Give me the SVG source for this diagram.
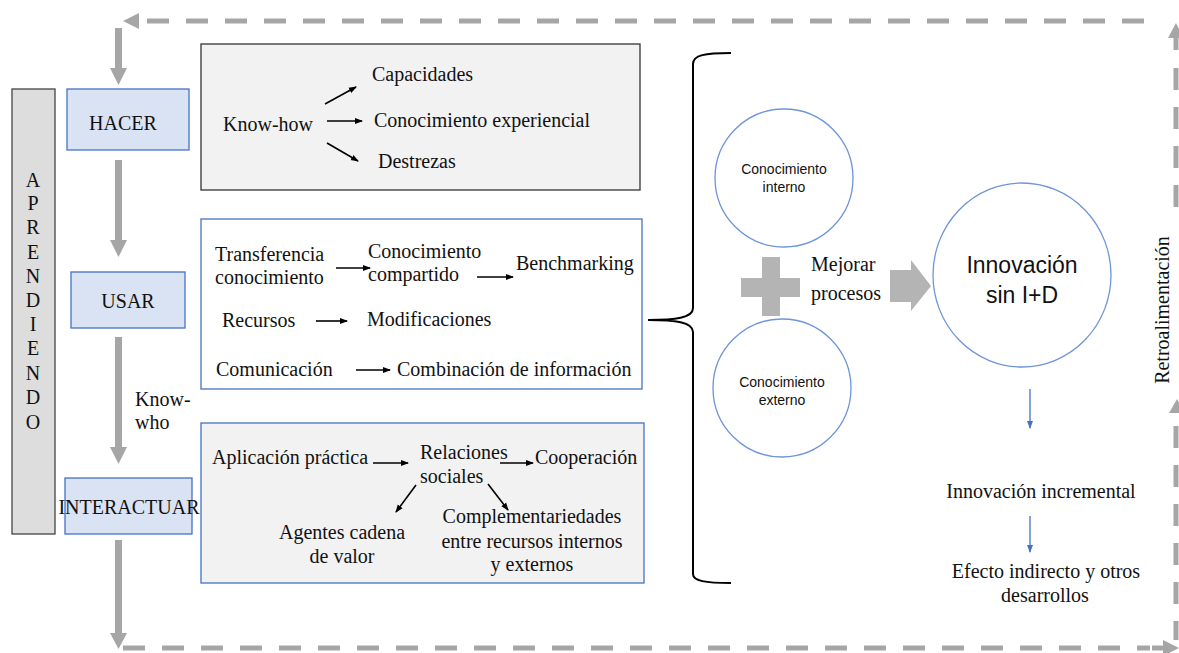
<svg xmlns="http://www.w3.org/2000/svg" width="1179" height="653" viewBox="0 0 1179 653">
<style>
.t{font-family:"Liberation Serif","Times New Roman",serif;font-size:20px;fill:#111}
.s{font-family:"Liberation Sans",Arial,sans-serif;fill:#111}
.lbl{fill:#dae3f3;stroke:#4472c4;stroke-width:1.3}
.dash{stroke:#a6a6a6;stroke-width:5;stroke-dasharray:22 17;fill:none}
.gray{fill:#a6a6a6}
.blk{stroke:#000;stroke-width:1.6;fill:none;marker-end:url(#ah)}
.blu{stroke:#4472c4;stroke-width:1.3;fill:none;marker-end:url(#bh)}
.circ{fill:#fff;stroke:#6d95d8;stroke-width:1.3}
</style>
<defs>
<marker id="ah" markerWidth="8" markerHeight="8" refX="7" refY="4" orient="auto" markerUnits="userSpaceOnUse"><path d="M0,1 L8,4 L0,7 Z" fill="#000"/></marker>
<marker id="bh" markerWidth="8" markerHeight="8" refX="7" refY="4" orient="auto" markerUnits="userSpaceOnUse"><path d="M0,1 L8,4 L0,7 Z" fill="#4472c4"/></marker>
</defs>
<rect width="1179" height="653" fill="#fff"/>

<g id="aprendiendo">
<rect x="12" y="89" width="43" height="445" fill="#dddddd" stroke="#444" stroke-width="1.3"/>
<g class="t" text-anchor="middle" font-size="19">
<text x="33" y="187">A</text><text x="33" y="210">P</text><text x="33" y="234">R</text><text x="33" y="259">E</text><text x="33" y="283">N</text><text x="33" y="307">D</text><text x="33" y="331">I</text><text x="33" y="355">E</text><text x="33" y="380">N</text><text x="33" y="404">D</text><text x="33" y="429">O</text>
</g>
</g>

<g id="hacer"><rect class="lbl" x="67" y="89" width="122" height="61"/><text class="t" x="123" y="130" text-anchor="middle">HACER</text></g>
<g id="usar"><rect class="lbl" x="71" y="272" width="114" height="56"/><text class="t" x="128" y="308" text-anchor="middle">USAR</text></g>
<g id="interactuar"><rect class="lbl" x="65" y="478" width="127" height="56"/><text class="t" x="129" y="514" text-anchor="middle">INTERACTUAR</text></g>
<g id="knowwho"><text class="t" x="135" y="406">Know-</text><text class="t" x="135" y="429">who</text></g>

<g id="box-knowhow">
<rect x="201" y="44" width="439" height="146" fill="#f2f2f2" stroke="#333" stroke-width="1.3"/>
<text class="t" x="223" y="131">Know-how</text>
<text class="t" x="372" y="81">Capacidades</text>
<text class="t" x="374" y="127">Conocimiento experiencial</text>
<text class="t" x="378" y="168">Destrezas</text>
</g>

<g id="box-usar">
<rect x="201" y="219" width="441" height="170" fill="#fff" stroke="#4472c4" stroke-width="1.3"/>
<text class="t" x="215" y="261">Transferencia</text>
<text class="t" x="215" y="284">conocimiento</text>
<text class="t" x="368" y="258">Conocimiento</text>
<text class="t" x="368" y="281">compartido</text>
<text class="t" x="516" y="270">Benchmarking</text>
<text class="t" x="222" y="327">Recursos</text>
<text class="t" x="367" y="326">Modificaciones</text>
<text class="t" x="216" y="376">Comunicación</text>
<text class="t" x="397" y="376">Combinación de información</text>
</g>

<g id="box-interactuar">
<rect x="201" y="423" width="443" height="160" fill="#f2f2f2" stroke="#4472c4" stroke-width="1.3"/>
<text class="t" x="212" y="464">Aplicación práctica</text>
<text class="t" x="420" y="459">Relaciones</text>
<text class="t" x="420" y="483">sociales</text>
<text class="t" x="535" y="464">Cooperación</text>
<text class="t" x="342" y="539" text-anchor="middle">Agentes cadena</text>
<text class="t" x="342" y="563" text-anchor="middle">de valor</text>
<text class="t" x="532" y="523" text-anchor="middle">Complementariedades</text>
<text class="t" x="532" y="548" text-anchor="middle">entre recursos internos</text>
<text class="t" x="532" y="571" text-anchor="middle">y externos</text>
</g>

<g id="conocimiento-interno"><circle class="circ" cx="784" cy="178" r="69"/>
<text class="s" x="784" y="174" font-size="14" text-anchor="middle">Conocimiento</text>
<text class="s" x="784" y="192" font-size="14" text-anchor="middle">interno</text></g>
<g id="conocimiento-externo"><circle class="circ" cx="782" cy="388" r="69"/>
<text class="s" x="782" y="387" font-size="14" text-anchor="middle">Conocimiento</text>
<text class="s" x="782" y="405" font-size="14" text-anchor="middle">externo</text></g>
<g id="mejorar"><text class="t" x="811" y="271" font-size="22">Mejorar</text><text class="t" x="811" y="300" font-size="22">procesos</text></g>
<g id="innovacion"><ellipse class="circ" cx="1022" cy="275" rx="89" ry="92"/>
<text class="s" x="1022" y="273" font-size="23" text-anchor="middle">Innovación</text>
<text class="s" x="1022" y="303" font-size="23" text-anchor="middle">sin I+D</text></g>
<g id="incremental"><text class="t" x="1041" y="498" text-anchor="middle">Innovación incremental</text></g>
<g id="efecto"><text class="t" x="1046" y="578" text-anchor="middle">Efecto indirecto y otros</text><text class="t" x="1045" y="602" text-anchor="middle">desarrollos</text></g>
<g id="retro"><text class="t" transform="translate(1169,310) rotate(-90)" text-anchor="middle">Retroalimentación</text></g>

<g id="connectors">
<line class="dash" x1="147" y1="21" x2="1160" y2="21"/>
<polygon class="gray" points="123,21 139,13 139,29"/>
<polygon class="gray" points="1176,23 1168,38 1184,38"/>
<line x1="1176" y1="37" x2="1176" y2="50" stroke="#a6a6a6" stroke-width="5"/>
<line class="dash" x1="1176" y1="68" x2="1176" y2="216"/>
<polygon class="gray" points="1177,399 1169,413 1185,413"/>
<line class="dash" x1="1176" y1="426" x2="1176" y2="640"/>
<line class="dash" x1="123" y1="648" x2="1150" y2="648"/>
<line x1="1152" y1="648" x2="1164" y2="648" stroke="#a6a6a6" stroke-width="5"/>
<polygon class="gray" points="1179,648 1163,640 1163,656"/>
<rect class="gray" x="115" y="28" width="7" height="42"/>
<polygon class="gray" points="110,68 127,68 118.5,85"/>
<rect class="gray" x="115" y="160" width="7" height="82"/>
<polygon class="gray" points="110,240 127,240 118.5,257"/>
<rect class="gray" x="115" y="337" width="7" height="112"/>
<polygon class="gray" points="110,447 127,447 118.5,464"/>
<rect class="gray" x="115" y="540" width="7" height="95"/>
<polygon class="gray" points="110,633 127,633 118.5,649"/>
<line class="blk" x1="325" y1="104" x2="356" y2="87"/>
<line class="blk" x1="327" y1="121" x2="362" y2="121"/>
<line class="blk" x1="327" y1="143" x2="358" y2="161"/>
<line class="blk" x1="336" y1="268" x2="370" y2="268"/>
<line class="blk" x1="477" y1="277" x2="513" y2="277"/>
<line class="blk" x1="316" y1="321" x2="347" y2="321"/>
<line class="blk" x1="356" y1="370" x2="390" y2="370"/>
<line class="blk" x1="373" y1="463" x2="408" y2="463"/>
<line class="blk" x1="500" y1="463" x2="533" y2="463"/>
<line class="blk" x1="416" y1="485" x2="396" y2="512"/>
<line class="blk" x1="488" y1="484" x2="508" y2="510"/>
<path d="M731,53 C705,53 693,55 693,64 L693,308 C693,318 675,320 648,320 C675,320 693,322 693,332 L693,574 C693,581 705,583 731,583" fill="none" stroke="#000" stroke-width="2"/>
<path d="M762,257 H780 V278 H800 V297 H780 V316 H762 V297 H741 V278 H762 Z" fill="#b4b4b4"/>
<polygon points="890,270 911,270 911,260 931,286 911,311 911,302 890,302" fill="#b4b4b4"/>
<line class="blu" x1="1030" y1="389" x2="1030" y2="428"/>
<line class="blu" x1="1030" y1="516" x2="1030" y2="552"/>
</g>
</svg>
